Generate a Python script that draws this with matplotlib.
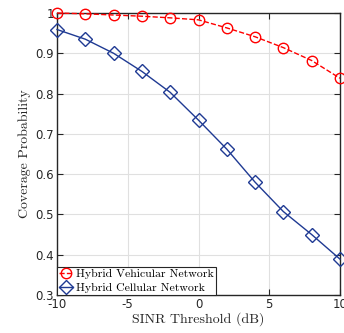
import numpy as np
import matplotlib
matplotlib.use('Agg')
import matplotlib.pyplot as plt

# SINR threshold (dB)
sinr = [-10, -8, -6, -4, -2, 0, 2, 4, 6, 8, 10]
vehicular = [1.0, 0.998, 0.995, 0.992, 0.988, 0.983, 0.963, 0.941, 0.914, 0.882, 0.838]
cellular = [0.959, 0.935, 0.900, 0.855, 0.803, 0.734, 0.662, 0.580, 0.507, 0.450, 0.389]

fig = plt.figure(figsize=(3.44, 3.33), dpi=100)
ax = fig.add_axes([57/344, 38/333, 283/344, 282/333])

ax.plot(sinr, vehicular, '--o', color='#ff0000', lw=1.0, ms=7.5, mfc='none', mew=1.0,
        label='Hybrid Vehicular Network', clip_on=False, zorder=3)
ax.plot(sinr, cellular, '-D', color='#1f3a93', lw=1.0, ms=7, mfc='none', mew=1.0,
        label='Hybrid Cellular Network', clip_on=False, zorder=3)

ax.set_xlim(-10, 10)
ax.set_ylim(0.3, 1.0)
ax.set_xticks([-10, -5, 0, 5, 10])
ax.set_yticks([0.3, 0.4, 0.5, 0.6, 0.7, 0.8, 0.9, 1.0])
ax.set_yticklabels(['0.3', '0.4', '0.5', '0.6', '0.7', '0.8', '0.9', '1'])
ax.set_xticklabels(['-10', '-5', '0', '5', '10'])
ax.grid(True, color='#e0e0e0', lw=0.8)
ax.set_axisbelow(True)
ax.tick_params(direction='in', top=True, right=True, labelsize=8.5, length=4,
               width=0.8, colors='#262626', labelcolor='#262626', pad=2)
for s in ax.spines.values():
    s.set_linewidth(1.0)
    s.set_color('#262626')

ax.set_xlabel('SINR Threshold (dB)', family='cmr10', fontsize=10, color='#262626', labelpad=1)
ax.set_ylabel('Coverage Probability', family='cmr10', fontsize=10, color='#262626', labelpad=3)

leg = ax.legend(loc='lower left', prop={'family': 'cmr10', 'size': 8.5}, borderaxespad=0,
                fancybox=False, framealpha=1, edgecolor='#262626', handlelength=1.2,
                handletextpad=0.3, borderpad=0.15, labelspacing=0.35)
leg.get_frame().set_linewidth(0.8)

fig.savefig('out.png', dpi=100)
